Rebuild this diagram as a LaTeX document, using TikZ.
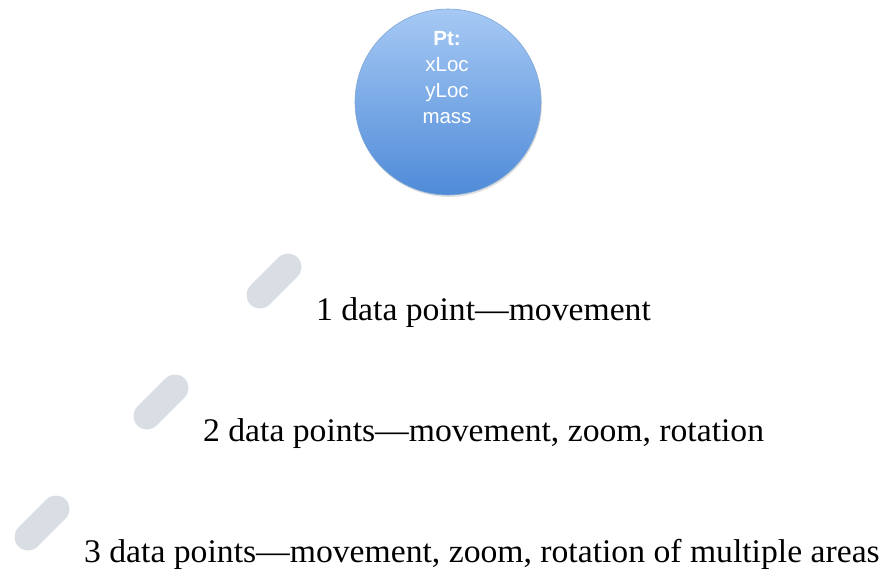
\documentclass[tikz,border=0pt]{standalone}
\usepackage{fontspec}
\setmainfont[FakeStretch=1.02]{Liberation Serif}
\newfontfamily\labelsans{Liberation Sans}
\definecolor{balltop}{HTML}{A6C9F4}
\definecolor{ballbottom}{HTML}{4F8BD8}
\definecolor{balledge}{HTML}{7FA6D6}
\definecolor{pillgray}{HTML}{D8DEE4}
\begin{document}
\begin{tikzpicture}[x=1pt,y=-1pt,
  pill/.style={line width=27pt, line cap=round, draw=pillgray},
  caption/.style={anchor=base west, inner sep=0pt, font=\fontsize{33}{38}\selectfont},
  balltext/.style={anchor=base, inner sep=0pt, text=white, font=\labelsans\fontsize{20.5}{25}\selectfont}]
  \useasboundingbox (0,0) rectangle (891,574);
  % data ball with a faint shadow
  \fill[black!12] (449,104) circle (93);
  \shade[top color=balltop, bottom color=ballbottom, draw=balledge, line width=0.6pt] (448,102) circle (93);
  \node[balltext] (pt)   at (447,45)  {\textbf{Pt:}};
  \node[balltext] (xloc) at (447,71)  {xLoc};
  \node[balltext] (yloc) at (447,97)  {yLoc};
  \node[balltext] (mass) at (447,123) {mass};
  % touch markers
  \coordinate (p1a) at (260,295); \coordinate (p1b) at (288,267);
  \coordinate (p2a) at (147,416); \coordinate (p2b) at (175,388);
  \coordinate (p3a) at (28,537);  \coordinate (p3b) at (56,509);
  \draw[pill] (p1a) -- (p1b);
  \draw[pill] (p2a) -- (p2b);
  \draw[pill] (p3a) -- (p3b);
  % captions
  \node[caption] (t1) at (316,320) {1 data point—movement};
  \node[caption] (t2) at (203,441) {2 data points—movement, zoom, rotation};
  \node[caption] (t3) at (84,562) {3 data points—movement, zoom, rotation of multiple areas};
\end{tikzpicture}
\end{document}
